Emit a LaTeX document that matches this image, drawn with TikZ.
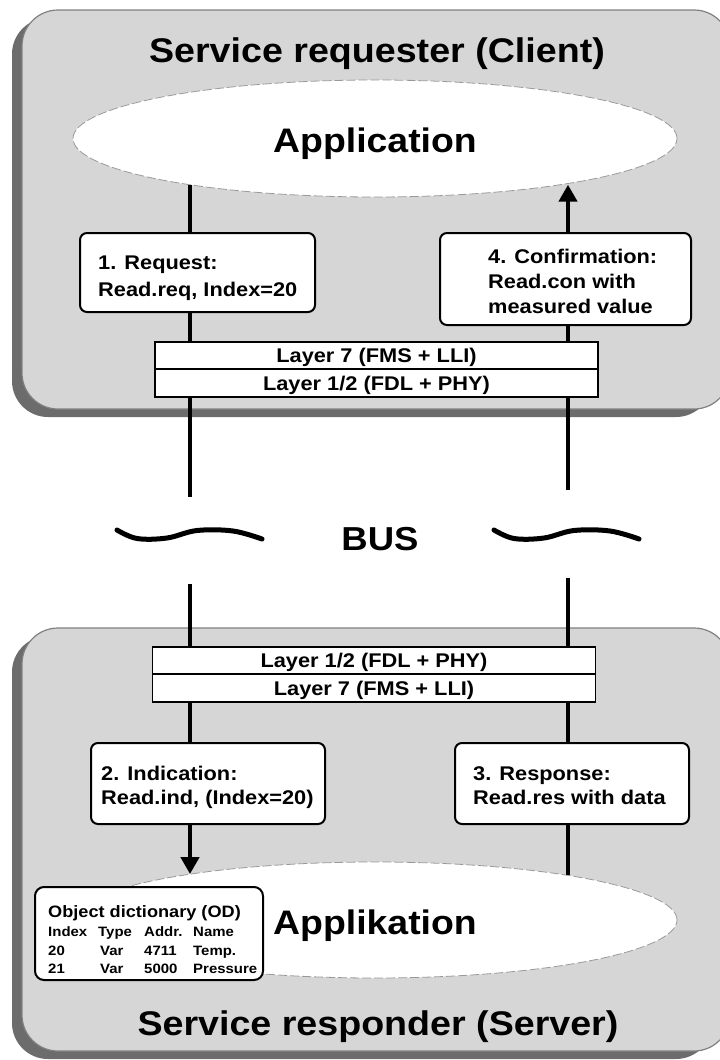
\documentclass[tikz,border=0pt]{standalone}
\usepackage{fontspec}
\setmainfont{Liberation Sans}[FakeStretch=1.1]
\usetikzlibrary{arrows.meta,shapes.geometric}

\definecolor{panelgray}{RGB}{214,214,214}
\definecolor{paneledge}{RGB}{128,128,128}
\definecolor{shadowgray}{RGB}{108,108,108}

\tikzset{
  panelshadow/.style={fill=shadowgray, rounded corners=36pt},
  panel/.style={fill=panelgray, draw=paneledge, line width=1.2pt, rounded corners=36pt},
  appell/.style={ellipse, fill=white, draw=black!40, dash pattern=on 9pt off 3pt,
    line width=0.8pt, inner sep=0pt, outer sep=0pt},
  apptext/.style={font=\bfseries\fontsize{34}{40}\selectfont, inner sep=0pt},
  titletext/.style={font=\bfseries\fontsize{34.2}{40}\selectfont, inner sep=0pt},
  bustext/.style={font=\bfseries\fontsize{33.2}{40}\selectfont, inner sep=0pt},
  msgbox/.style={draw, line width=2pt, fill=white, rounded corners=7pt,
    inner sep=0pt, outer sep=0pt},
  msgtext/.style={font=\bfseries\fontsize{19.8}{24}\selectfont, inner sep=0pt, anchor=base west},
  layerbox/.style={draw, line width=1.8pt, fill=white, inner sep=0pt, outer sep=0pt,
    minimum width=443pt, font=\bfseries\fontsize{19.8}{24}\selectfont,
    text height=14.2pt, text depth=0pt},
  odbox/.style={draw, line width=2pt, fill=white, rounded corners=9pt,
    inner sep=0pt, outer sep=0pt},
  odtitle/.style={font=\bfseries\fontsize{16.5}{20}\selectfont, inner sep=0pt, anchor=base west},
  odcell/.style={font=\bfseries\fontsize{13.6}{16}\selectfont, inner sep=0pt, anchor=base west},
  wire/.style={line width=4.5pt},
  arrowwire/.style={wire, -{Triangle[width=18pt,length=17pt]}},
  squig/.style={line width=5pt, line cap=round}
}

\begin{document}
\begin{tikzpicture}[x=1pt, y=-1pt]
\useasboundingbox (0,0) rectangle (720,1060);
\clip (0,0) rectangle (720,1060);

% client panel with its drop shadow
\path[panelshadow] (12,18) rectangle (712,417);
\path[panel] (22,10) rectangle (730,409);

% server panel with its drop shadow
\path[panelshadow] (12,636) rectangle (712,1059);
\path[panel] (22,628) rectangle (730,1051);

% titles
\node[titletext, anchor=base] (ctitle) at (377,62) {Service requester (Client)};
\node[titletext, anchor=base] (stitle) at (378,1035) {Service responder (Server)};

% application ellipses
\node[appell, minimum width=604pt, minimum height=117pt] (app) at (375,138.5) {};
\node[apptext, anchor=base] (apptxt) at (375,152) {Application};
\node[appell, minimum width=604pt, minimum height=116pt] (appk) at (375,920) {};
\node[apptext, anchor=base] (appktxt) at (375,934) {Applikation};

% client side message boxes
\node[msgbox, minimum width=235pt, minimum height=79pt] (req) at (197.5,272.5) {};
\node[msgtext] (req1) at (98,269) {1. Request:};
\node[msgtext] (req2) at (98,296.5) {Read.req, Index=20};

\node[msgbox, minimum width=251pt, minimum height=92pt] (conf) at (565.5,279) {};
\node[msgtext] (conf1) at (488,263) {4. Confirmation:};
\node[msgtext] (conf2) at (488,288) {Read.con with};
\node[msgtext] (conf3) at (488,313) {measured value};

% server side message boxes
\node[msgbox, minimum width=234pt, minimum height=81pt] (ind) at (208,783.5) {};
\node[msgtext] (ind1) at (101,780) {2. Indication:};
\node[msgtext] (ind2) at (101,804) {Read.ind, (Index=20)};

\node[msgbox, minimum width=234pt, minimum height=81pt] (resp) at (572,783.5) {};
\node[msgtext] (resp1) at (473,780) {3. Response:};
\node[msgtext] (resp2) at (473,804) {Read.res with data};

% protocol layers
\node[layerbox, minimum height=27pt] (l7top) at (376.5,355.5) {Layer 7 (FMS + LLI)};
\node[layerbox, minimum height=28pt] (l12top) at (376.5,383) {Layer 1/2 (FDL + PHY)};
\node[layerbox, minimum height=27pt] (l12bot) at (374,660.5) {Layer 1/2 (FDL + PHY)};
\node[layerbox, minimum height=28pt] (l7bot) at (374,688) {Layer 7 (FMS + LLI)};

% object dictionary
\node[odbox, minimum width=228pt, minimum height=93pt] (od) at (149,933.5) {};
\node[odtitle] (odt) at (48,917) {Object dictionary (OD)};
\node[odcell] (odh1) at (48,936) {Index};
\node[odcell] (odh2) at (98,936) {Type};
\node[odcell] (odh3) at (144,936) {Addr.};
\node[odcell] (odh4) at (193,936) {Name};
\node[odcell] (oda1) at (48,955) {20};
\node[odcell] (oda2) at (100,955) {Var};
\node[odcell] (oda3) at (144,955) {4711};
\node[odcell] (oda4) at (193,955) {Temp.};
\node[odcell] (odb1) at (48,973) {21};
\node[odcell] (odb2) at (100,973) {Var};
\node[odcell] (odb3) at (144,973) {5000};
\node[odcell] (odb4) at (193,973) {Pressure};

% bus
\node[bustext, anchor=base] (bus) at (380,550) {BUS};
\draw[squig] plot[smooth, tension=0.6] coordinates
  {(117,530) (137,538.5) (167,538) (197,530.5) (233,531) (262,539)};
\draw[squig] plot[smooth, tension=0.6] coordinates
  {(494,530) (514,538.5) (544,538) (574,530.5) (610,531) (639,539)};

% signal paths
\coordinate (L) at (190,0);
\coordinate (R) at (568,0);
\coordinate (Ltop) at (190,497);
\coordinate (Rtop) at (568,490);
\coordinate (Lbot) at (190,584);
\coordinate (Rbot) at (568,578);

\draw[wire] (L |- app.194.03) -- (L |- req.north);
\draw[wire] (L |- req.south) -- (L |- l7top.north);
\draw[wire] (L |- l12top.south) -- (Ltop);
\draw[wire] (Rtop) -- (R |- l12top.south);
\draw[wire] (R |- l7top.north) -- (R |- conf.south);
\draw[arrowwire] (R |- conf.north) -- (R |- app.346.88);

\draw[wire] (Lbot) -- (L |- l12bot.north);
\draw[wire] (L |- l7bot.south) -- (L |- ind.north);
\draw[arrowwire] (L |- ind.south) -- (L |- appk.166.1);
\draw[wire] (Rbot) -- (R |- l12bot.north);
\draw[wire] (R |- l7bot.south) -- (R |- resp.north);
\draw[wire] (R |- resp.south) -- (R |- appk.13.0);
\end{tikzpicture}
\end{document}
